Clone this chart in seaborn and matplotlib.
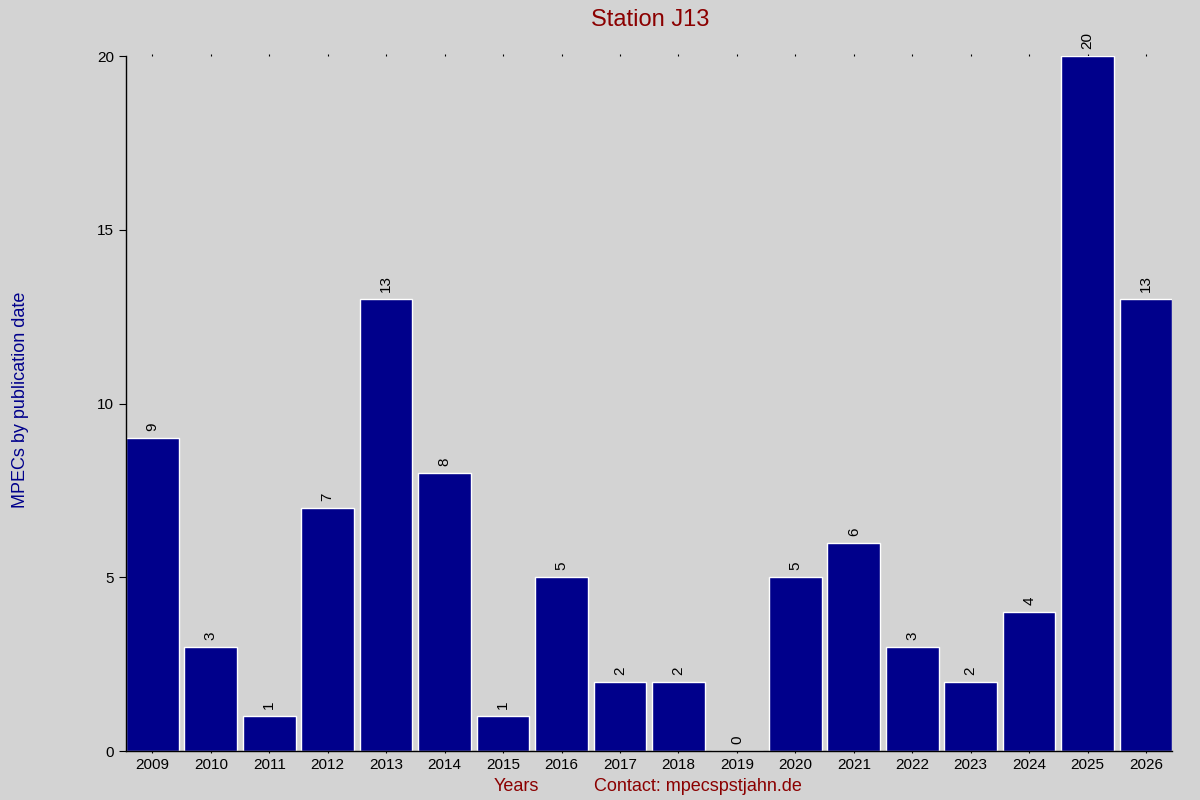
import matplotlib
matplotlib.use("Agg")
import matplotlib.pyplot as plt
import seaborn as sns
import pandas as pd

years = [str(y) for y in range(2009, 2027)]
counts = [9, 3, 1, 7, 13, 8, 1, 5, 2, 2, 0, 5, 6, 3, 2, 4, 20, 13]
yticks = [0, 5, 10, 15, 20]

sns.set_style("white")
plt.rcParams['font.family'] = ['Liberation Sans', 'DejaVu Sans']
bg = "#d3d3d3"
fig = plt.figure(figsize=(12, 8), dpi=100, facecolor=bg)
ax = fig.add_axes([0.105, 0.061, 0.872, 0.869], facecolor=bg)
df = pd.DataFrame({"year": years, "count": counts})
sns.barplot(data=df, x="year", y="count", color="#00008B", saturation=1, width=0.9, ax=ax)
for p, v in zip(ax.patches, counts):
    ax.text(p.get_x() + p.get_width() / 2, v + 0.2, str(v), rotation=90,
            ha="center", va="bottom", fontsize=11, color="black")
ax.set_xlim(-0.45, 17.45)
ax.set_ylim(0, 20)
ax.set_yticks(yticks)
for s in ["top", "right"]:
    ax.spines[s].set_visible(False)
for s in ["left", "bottom"]:
    ax.spines[s].set_color("black")
    ax.spines[s].set_linewidth(1)
ax.tick_params(axis="both", labelsize=11, colors="black", length=5, direction="out",
               left=True, bottom=True)
ax.tick_params(axis="x", top=True, length=1.5)
ax.set_xlabel("")
ax.set_ylabel("")
fig.text(0.5417, 0.989, "Station J13", ha="center", va="top", fontsize=17, color="#8B0000")
fig.text(0.01, 0.5, "MPECs by publication date", rotation=90, ha="left", va="center",
         fontsize=13, color="#00008B")
fig.text(0.43, 0.017, "Years", ha="center", va="center", fontsize=13, color="#8B0000")
fig.text(0.582, 0.017, "Contact: mpecspstjahn.de", ha="center", va="center", fontsize=13, color="#8B0000")
fig.savefig("out.png", dpi=100, facecolor=bg)
